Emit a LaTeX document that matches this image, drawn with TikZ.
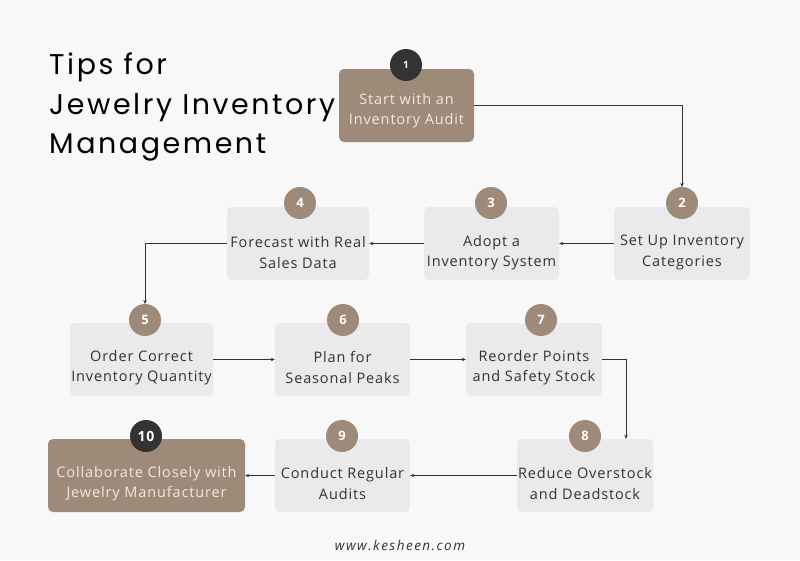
\documentclass[tikz,border=0pt]{standalone}
\usepackage{fontspec}
\setmainfont[LetterSpace=6]{Open Sans}
\newfontfamily\titlefont[LetterSpace=9]{Poppins}
\newfontfamily\sitefont[LetterSpace=11]{Open Sans}
\usetikzlibrary{arrows.meta,positioning}

\definecolor{paper}{HTML}{F8F8F8}
\definecolor{taupe}{HTML}{9E8A78}
\definecolor{cardgray}{HTML}{EAE9EB}
\definecolor{ink}{HTML}{333333}
\definecolor{cream}{HTML}{EFE9E2}

\tikzset{
  card/.style={rounded corners=5pt, minimum height=73pt, inner sep=0pt},
  plaincard/.style={card, fill=cardgray},
  keycard/.style={card, fill=taupe},
  cardtext/.style={align=center, inner sep=0pt, text=ink,
    font=\fontsize{14.5}{20.5}\selectfont},
  keytext/.style={cardtext, text=cream},
  badge/.style={circle, fill=taupe, minimum size=32pt, inner sep=0pt,
    text=white, font=\bfseries\fontsize{13}{13}\selectfont},
  darkbadge/.style={badge, fill=ink},
  link/.style={draw=ink, line width=0.8pt, -{Stealth[length=4pt,width=3.5pt]}}
}

\begin{document}
\begin{tikzpicture}[x=1pt,y=-1pt]
  \fill[paper] (0,0) rectangle (800,560);
  \useasboundingbox (0,0) rectangle (800,560);

  % title
  \node[anchor=north west, align=left, inner sep=0pt,
    font=\titlefont\fontsize{28.5}{39.5}\selectfont] (title) at (49,53)
    {Tips for\\Jewelry Inventory\\Management};

  % cards
  \node[keycard, minimum width=135pt] (b1) at (406.5,105.5) {};
  \node[plaincard, minimum width=136pt] (b2) at (682,243.5) {};
  \node[plaincard, minimum width=135pt] (b3) at (491.5,243.5) {};
  \node[plaincard, minimum width=142pt] (b4) at (298,243.5) {};
  \node[plaincard, minimum width=143pt] (b5) at (141.5,359.5) {};
  \node[plaincard, minimum width=135pt] (b6) at (342.5,359.5) {};
  \node[plaincard, minimum width=136pt] (b7) at (534,359.5) {};
  \node[plaincard, minimum width=136pt] (b8) at (585,475.5) {};
  \node[plaincard, minimum width=135pt] (b9) at (342.5,475.5) {};
  \node[keycard, minimum width=197pt] (b10) at (146.5,475.5) {};

  % texts
  \node[keytext] (t1) at ([yshift=-5pt]b1.center) {Start with an\\Inventory Audit};
  \node[cardtext] (t2) at ([yshift=-9pt]b2.center) {Set Up Inventory\\Categories};
  \node[cardtext] (t3) at ([yshift=-9pt]b3.center) {Adopt a\\Inventory System};
  \node[cardtext] (t4) at ([yshift=-9pt]b4.center) {Forecast with Real\\Sales Data};
  \node[cardtext] (t5) at ([yshift=-8pt]b5.center) {Order Correct\\Inventory Quantity};
  \node[cardtext] (t6) at ([yshift=-8pt]b6.center) {Plan for\\Seasonal Peaks};
  \node[cardtext] (t7) at ([yshift=-8pt]b7.center) {Reorder Points\\and Safety Stock};
  \node[cardtext] (t8) at ([yshift=-8pt]b8.center) {Reduce Overstock\\and Deadstock};
  \node[cardtext] (t9) at ([yshift=-8pt]b9.center) {Conduct Regular\\Audits};
  \node[keytext] (t10) at ([yshift=-8pt]b10.center) {Collaborate Closely with\\Jewelry Manufacturer};

  % connectors
  \coordinate (k78) at (626,359.5);
  \draw[link] (b1.east) -| (682,187);
  \draw[link] (b2.west) -- (b3.east);
  \draw[link] (b3.west) -- (b4.east);
  \draw[link] (b4.west) -| (145,304);
  \draw[link] (b5.east) -- (b6.west);
  \draw[link] (b6.east) -- (b7.west);
  \draw[link] (b7.east) -- (k78) -- (k78 |- b8.north);
  \draw[link] (b8.west) -- (b9.east);
  \draw[link] (b9.west) -- (b10.east);

  % numbered badges
  \node[darkbadge, font=\bfseries\fontsize{10}{10}\selectfont] (n1) at (406,65) {1};
  \node[badge] (n2) at (682,203) {2};
  \node[badge] (n3) at (491,203) {3};
  \node[badge] (n4) at (300,203) {4};
  \node[badge] (n5) at (145,320) {5};
  \node[badge] (n6) at (343,320) {6};
  \node[badge] (n7) at (541,320) {7};
  \node[badge] (n8) at (585,436) {8};
  \node[badge] (n9) at (342,436) {9};
  \node[darkbadge, font=\bfseries\fontsize{14}{14}\selectfont] (n10) at (146,436) {10};

  % footer
  \node[text=ink, font=\sitefont\itshape\fontsize{13.5}{13.5}\selectfont] (site) at (400,545) {www.kesheen.com};
\end{tikzpicture}
\end{document}
